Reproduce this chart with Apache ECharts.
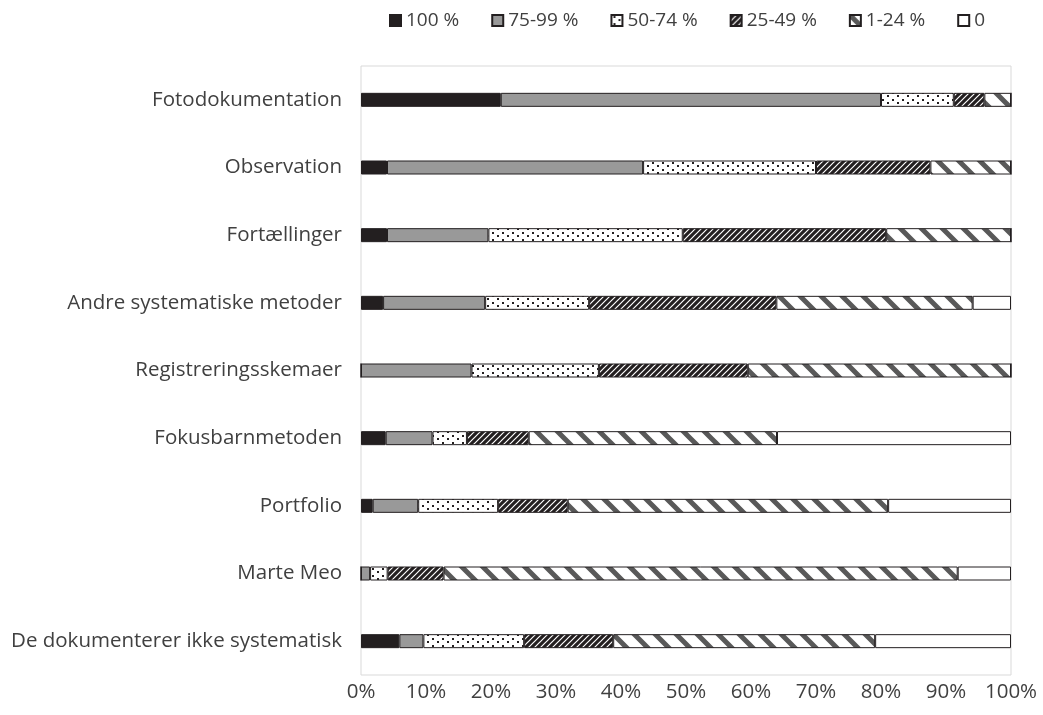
<!DOCTYPE html>
<html>
<head>
<meta charset="utf-8">
<script src="https://cdn.jsdelivr.net/npm/echarts@6/dist/echarts.min.js"></script>
<style>
  html, body { margin: 0; padding: 0; background: #fff; }
  #chart { width: 1043px; height: 715px; }
</style>
</head>
<body>
<div id="chart"></div>
<script>
// kategorier, oppefra og ned
var categories = [
  'Fotodokumentation',
  'Observation',
  'Fortællinger',
  'Andre systematiske metoder',
  'Registreringsskemaer',
  'Fokusbarnmetoden',
  'Portfolio',
  'Marte Meo',
  'De dokumenterer ikke systematisk'
];
var seriesNames = ['100 %', '75-99 %', '50-74 %', '25-49 %', '1-24 %', '0'];

// andele i procent (aflæst)
var s100   = [21.5, 4.0, 4.0, 3.4, 0.0, 3.8, 1.8, 0.0, 5.9];
var s75_99 = [58.5, 39.4, 15.6, 15.7, 17.0, 7.2, 7.0, 1.4, 3.7];
var s50_74 = [11.2, 26.6, 29.9, 16.0, 19.6, 5.3, 12.3, 2.7, 15.5];
var s25_49 = [4.7, 17.6, 31.3, 28.8, 22.9, 9.5, 10.7, 8.6, 13.7];
var s1_24  = [4.1, 12.4, 19.2, 30.2, 40.5, 38.2, 49.3, 79.1, 40.3];
var s0     = [0.0, 0.0, 0.0, 5.9, 0.0, 36.0, 18.9, 8.2, 20.9];

var xTicks = [0, 10, 20, 30, 40, 50, 60, 70, 80, 90, 100];

var dark = '#231f20';

function tile(w, h, draw) {
  var c = document.createElement('canvas');
  c.width = w; c.height = h;
  var ctx = c.getContext('2d');
  draw(ctx);
  return { image: c, repeat: 'repeat' };
}

// mønstre
var dots = tile(10, 7, function (ctx) {
  ctx.fillStyle = '#fff'; ctx.fillRect(0, 0, 10, 7);
  ctx.fillStyle = dark;
  ctx.fillRect(2, 1, 2, 2);
  ctx.fillRect(7, 4, 2, 2);
});
var hatch = tile(6, 6, function (ctx) {
  ctx.fillStyle = dark; ctx.fillRect(0, 0, 6, 6);
  ctx.strokeStyle = '#fff'; ctx.lineWidth = 1.2;
  ctx.beginPath();
  ctx.moveTo(0, 6); ctx.lineTo(6, 0);
  ctx.moveTo(-1, 1); ctx.lineTo(1, -1);
  ctx.moveTo(5, 7); ctx.lineTo(7, 5);
  ctx.stroke();
});
var stripes = tile(21, 21, function (ctx) {
  ctx.fillStyle = '#fff'; ctx.fillRect(0, 0, 21, 21);
  ctx.strokeStyle = '#595959'; ctx.lineWidth = 5;
  ctx.beginPath();
  ctx.moveTo(0, 0); ctx.lineTo(21, 21);
  ctx.moveTo(-21, 0); ctx.lineTo(0, 21);
  ctx.moveTo(21, 0); ctx.lineTo(42, 21);
  ctx.moveTo(0, -21); ctx.lineTo(21, 0);
  ctx.moveTo(0, 21); ctx.lineTo(21, 42);
  ctx.stroke();
});

var fills = [dark, '#999999', dots, hatch, stripes, '#ffffff'];
var values = [s100, s75_99, s50_74, s25_49, s1_24, s0];

var series = [];
for (var i = 0; i < seriesNames.length; i++) {
  series.push({
    name: seriesNames[i],
    type: 'bar',
    stack: 'total',
    barWidth: 14,
    data: values[i],
    itemStyle: {
      color: fills[i],
      borderColor: dark,
      borderWidth: 1
    }
  });
}

var myChart = echarts.init(document.getElementById('chart'));
myChart.setOption({
  animation: false,
  textStyle: { fontFamily: 'Open Sans' },
  legend: {
    data: seriesNames,
    top: 6,
    left: 384,
    icon: 'rect',
    itemWidth: 11,
    itemHeight: 11,
    itemGap: 32,
    textStyle: { color: '#404040', fontSize: 19 }
  },
  grid: {
    left: 361,
    right: 32,
    top: 66,
    bottom: 40,
    show: true,
    borderColor: '#d9d9d9',
    borderWidth: 1,
    containLabel: false
  },
  xAxis: {
    type: 'value',
    min: 0,
    max: 100,
    interval: 10,
    axisLine: { show: false },
    axisTick: { show: false },
    splitLine: { show: false },
    axisLabel: {
      color: '#404040',
      fontSize: 20.5,
      margin: 7,
      formatter: function (v) { return xTicks.indexOf(v) >= 0 ? v + '%' : ''; }
    }
  },
  yAxis: {
    type: 'category',
    data: categories,
    inverse: true,
    axisLine: { show: false },
    axisTick: { show: false },
    axisLabel: { color: '#404040', fontSize: 20.5, margin: 19 }
  },
  series: series
});
</script>
</body>
</html>
